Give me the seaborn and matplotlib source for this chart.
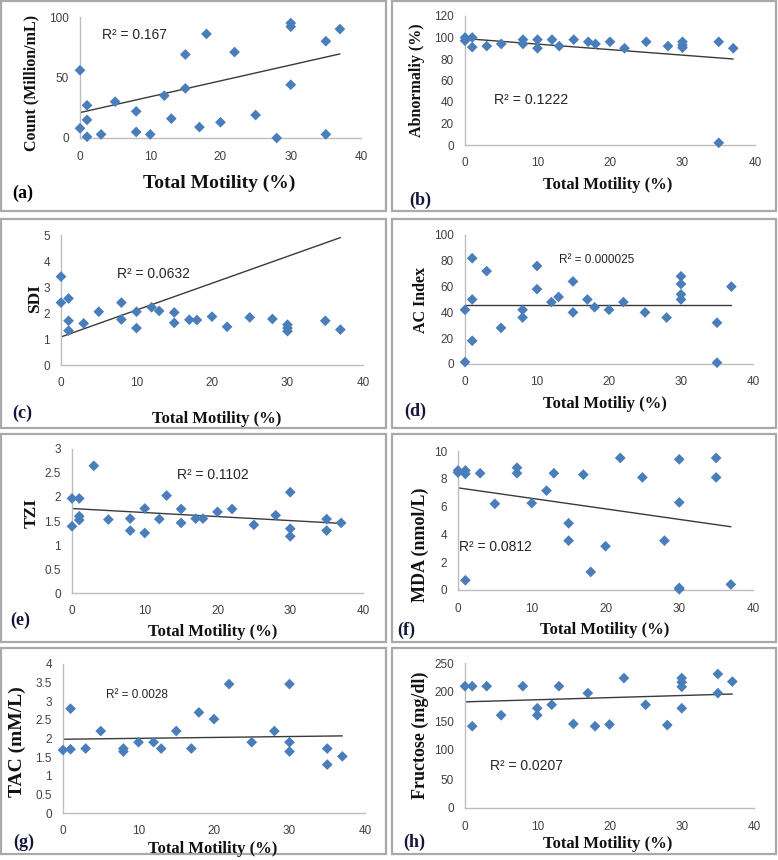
import matplotlib
matplotlib.use("Agg")
import matplotlib.pyplot as plt
from matplotlib.patches import Rectangle
from matplotlib.ticker import FuncFormatter
import seaborn as sns
import numpy as np

# ---------------- data ----------------
x_a = [0, 0, 1, 1, 1, 3, 5, 8, 8, 10, 12, 13, 15, 15, 17, 18, 20, 22, 25, 28, 30, 30, 30, 35, 35, 37]
y_a = [56, 8, 27, 15, 1, 3, 30, 22, 5, 3, 35, 16, 69, 41, 9, 86, 13, 71, 19, 0, 95, 92, 44, 80, 3, 90]

x_b = [0, 0, 1, 1, 3, 5, 8, 8, 10, 10, 12, 13, 15, 17, 18, 20, 22, 25, 28, 30, 30, 30, 35, 35, 37]
y_b = [100, 97, 100, 91, 92, 94, 98, 94, 98, 90, 98, 92, 98, 96, 94, 96, 90, 96, 92, 96, 93, 90.5, 96, 2, 90]

x_c = [0, 0, 1, 1, 1, 3, 5, 8, 8, 10, 10, 12, 13, 15, 15, 17, 18, 20, 22, 25, 28, 30, 30, 30, 35, 37]
y_c = [3.4, 2.4, 2.56, 1.7, 1.32, 1.6, 2.05, 2.4, 1.75, 2.05, 1.42, 2.22, 2.08, 2.02, 1.62, 1.74, 1.73,
       1.86, 1.47, 1.83, 1.77, 1.55, 1.42, 1.3, 1.7, 1.36]

x_d = [0, 0, 1, 1, 1, 3, 5, 8, 8, 10, 10, 12, 13, 15, 15, 17, 18, 20, 22, 25, 28, 30, 30, 30, 30, 35, 35, 37]
y_d = [42, 1.5, 82, 50, 18, 72, 28, 42, 36, 76, 58, 48, 52, 64, 40, 50, 44, 42, 48, 40, 36, 68, 62, 54, 50, 32, 1, 60]

x_e = [0, 0, 1, 1, 1, 3, 5, 8, 8, 10, 10, 12, 13, 15, 15, 17, 18, 20, 22, 25, 28, 30, 30, 30, 35, 35, 37]
y_e = [1.97, 1.39, 1.97, 1.6, 1.52, 2.65, 1.53, 1.55, 1.3, 1.76, 1.25, 1.54, 2.03, 1.75, 1.46, 1.55, 1.55,
       1.69, 1.75, 1.42, 1.62, 2.1, 1.34, 1.18, 1.54, 1.3, 1.46]

x_f = [0, 0, 1, 1, 1, 3, 5, 8, 8, 10, 12, 13, 15, 15, 17, 18, 20, 22, 25, 28, 30, 30, 30, 30, 35, 35, 37]
y_f = [8.6, 8.45, 8.6, 8.35, 0.7, 8.4, 6.2, 8.8, 8.4, 6.25, 7.15, 8.4, 4.8, 3.55, 8.3, 1.3, 3.15, 9.5,
       8.1, 3.55, 9.4, 6.3, 0.15, 0.05, 9.5, 8.1, 0.4]

x_g = [0, 1, 1, 3, 5, 8, 8, 10, 12, 13, 15, 17, 18, 20, 22, 25, 28, 30, 30, 30, 35, 35, 37]
y_g = [1.69, 2.8, 1.71, 1.73, 2.2, 1.73, 1.65, 1.9, 1.9, 1.73, 2.2, 1.73, 2.7, 2.52, 3.46, 1.9, 2.2,
       3.46, 1.9, 1.65, 1.73, 1.3, 1.52]

x_h = [0, 1, 1, 3, 5, 8, 10, 10, 12, 13, 15, 17, 18, 20, 22, 25, 28, 30, 30, 30, 30, 35, 35, 37]
y_h = [210, 210, 141, 210, 160, 210, 172, 160, 178, 210, 145, 198, 141, 144, 224, 178, 143, 224, 217,
       209, 172, 231, 198, 218]

# trendline end points (x = 0 and x = 37)
trend_x = [0, 37]
trend_a = [21, 69.5]
trend_b = [99, 80]
trend_c = [1.08, 4.9]
trend_d = [46, 46]
trend_e = [1.76, 1.45]
trend_f = [7.35, 4.55]
trend_g = [1.98, 2.07]
trend_h = [183, 196.5]

r2_texts = ["R² = 0.167", "R² = 0.1222", "R² = 0.0632", "R² = 0.000025",
            "R² = 0.1102", "R² = 0.0812", "R² = 0.0028", "R² = 0.0207"]
y_labels = ["Count (Million/mL)", "Abnormaliy (%)", "SDI", "AC Index",
            "TZI", "MDA (nmol/L)", "TAC (mM/L)", "Fructose (mg/dl)"]
x_labels = ["Total Motility (%)", "Total Motility (%)", "Total Motility (%)", "Total Motiliy (%)",
            "Total Motility (%)", "Total Motility (%)", "Total Motility (%)", "Total Motility (%)"]
panel_letters = ["(a)", "(b)", "(c)", "(d)", "(e)", "(f)", "(g)", "(h)"]
x_ticks = [0, 10, 20, 30, 40]
y_ticks = [[0, 50, 100], [0, 20, 40, 60, 80, 100, 120], [0, 1, 2, 3, 4, 5],
           [0, 20, 40, 60, 80, 100], [0, 0.5, 1, 1.5, 2, 2.5, 3], [0, 2, 4, 6, 8, 10],
           [0, 0.5, 1, 1.5, 2, 2.5, 3, 3.5, 4], [0, 50, 100, 150, 200, 250]]

xs = [x_a, x_b, x_c, x_d, x_e, x_f, x_g, x_h]
ys = [y_a, y_b, y_c, y_d, y_e, y_f, y_g, y_h]
trends = [trend_a, trend_b, trend_c, trend_d, trend_e, trend_f, trend_g, trend_h]

# ---------------- layout (pixels) ----------------
W, H = 778, 860
# axes: x0, x1, ytop, ybottom
axes_px = [(80, 361, 17, 138), (465, 755, 16, 145),
           (61, 363, 235, 365), (465, 753, 235, 364),
           (72, 363, 449, 593), (458, 753, 451, 590),
           (63, 365, 664, 813), (465, 754, 663, 808)]
xlabel_px = [(219, 183), (608, 185), (217, 419), (605, 404),
             (213, 632), (605, 630), (213, 849), (608, 844)]
xlabel_fs = [14, 12, 12, 12, 12, 12, 12, 12]
ylabel_px = [(31, 83), (417, 80), (35, 299), (421, 300),
             (32, 513), (420, 545), (17, 742), (420, 735)]
ylabel_fs = [11.5, 11.5, 12.5, 11.5, 12.5, 13, 14, 13]
letter_px = [(12, 193), (409, 200), (12, 413), (404, 411),
             (10, 620), (397, 630), (13, 842), (403, 842)]
r2_pos = [(3.1, 85), (4.05, 42), (7.4, 3.5), (13.1, 81),
          (14.4, 2.46), (0.2, 3.08), (5.75, 3.17), (3.4, 73)]
r2_fs = [10, 10.2, 10, 8.5, 10, 10, 8.5, 10]
boxes_px = [(1, 1, 386, 211), (392, 1, 776, 211),
            (1, 219, 386, 428), (392, 219, 776, 428),
            (1, 434, 386, 642), (392, 434, 776, 642),
            (1, 648, 386, 854), (392, 648, 776, 854)]

sns.set_theme(style="white")
plt.rcParams["font.family"] = ["Liberation Sans", "DejaVu Sans"]

fig = plt.figure(figsize=(W / 100, H / 100), dpi=100)
fig.patch.set_facecolor("white")

for (bx0, by0, bx1, by1) in boxes_px:
    fig.patches.append(Rectangle((bx0 / W, 1 - by1 / H), (bx1 - bx0) / W, (by1 - by0) / H,
                                 transform=fig.transFigure, fill=False,
                                 edgecolor="#a9a9a9", linewidth=1.6))

fmt = FuncFormatter(lambda v, p: f"{v:g}")
blue = "#4a7ebb"
serif = ["Liberation Serif", "DejaVu Serif"]

for i in range(8):
    x0, x1, yt, yb = axes_px[i]
    ax = fig.add_axes([x0 / W, 1 - yb / H, (x1 - x0) / W, (yb - yt) / H])
    ax.set_facecolor("none")
    sns.scatterplot(x=xs[i], y=ys[i], ax=ax, marker="D", s=30, color=blue,
                    edgecolor="none", linewidth=0, clip_on=False, zorder=3)
    ax.plot(trend_x, trends[i], color="#3a3a3a", linewidth=1.0, zorder=2)
    ax.set_xlim(0, 40)
    ax.set_ylim(y_ticks[i][0], y_ticks[i][-1])
    ax.set_xticks(x_ticks)
    ax.set_yticks(y_ticks[i])
    ax.xaxis.set_major_formatter(fmt)
    ax.yaxis.set_major_formatter(fmt)
    ax.tick_params(axis="both", length=0, labelsize=8.5, labelcolor="#404040")
    ax.tick_params(axis="x", pad=9)
    ax.tick_params(axis="y", pad=8)
    for s in ["top", "right"]:
        ax.spines[s].set_visible(False)
    for s in ["left", "bottom"]:
        ax.spines[s].set_color("#bdbdbd")
        ax.spines[s].set_linewidth(1.0)
    ax.set_xlabel("")
    ax.set_ylabel("")
    ax.text(r2_pos[i][0], r2_pos[i][1], r2_texts[i], fontsize=r2_fs[i], color="#262626",
            va="center", ha="left")
    fig.text(xlabel_px[i][0] / W, 1 - xlabel_px[i][1] / H, x_labels[i], family=serif,
             fontweight="bold", fontsize=xlabel_fs[i], ha="center", va="center", color="#111111")
    fig.text(ylabel_px[i][0] / W, 1 - ylabel_px[i][1] / H, y_labels[i], family=serif,
             fontweight="bold", fontsize=ylabel_fs[i], ha="center", va="center",
             rotation=90, color="#111111")
    fig.text(letter_px[i][0] / W, 1 - letter_px[i][1] / H, panel_letters[i], family=serif,
             fontweight="bold", fontsize=13, ha="left", va="center",
             color="#000000" if i == 0 else "#15153a")

fig.savefig("out.png", dpi=100, facecolor="white")
